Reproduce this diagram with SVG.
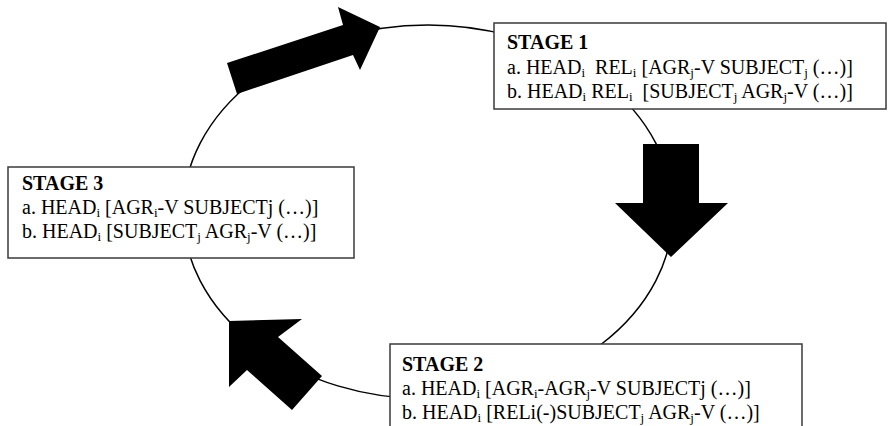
<svg xmlns="http://www.w3.org/2000/svg" width="889" height="426" viewBox="0 0 889 426">
<style>
.box{fill:#fff;stroke:#3a3a3a;stroke-width:1.5}
.t{font-family:"Liberation Serif","Times New Roman",serif;font-size:20px;fill:#000;white-space:pre}
.h{font-weight:bold}
.s{font-size:13px}
.arr{fill:#000}
</style>
<rect width="889" height="426" fill="#fff"/>
<g id="connectors">
<ellipse cx="428" cy="212" rx="245" ry="187" fill="none" stroke="#000" stroke-width="1.5"/>
<polygon class="arr" points="227,63 343,25 338,7 380,27 360,70 353,55 237,94"/>
<polygon class="arr" points="643,144 699,144 699,203 728,203 671,257 615,203 643,203"/>
<polygon class="arr" points="229,321 302,319 278,337 322,376 292,410 247,370 229,387"/>
</g>
<g id="stage1">
<rect class="box" x="494" y="23" width="392" height="86"/>
<text class="t h" x="507" y="49">STAGE 1</text>
<text class="t" x="507" y="74">a. HEAD<tspan class="s" dy="3">i</tspan><tspan dy="-3">  REL</tspan><tspan class="s" dy="3">i</tspan><tspan dy="-3"> [AGR</tspan><tspan class="s" dy="3">j</tspan><tspan dy="-3">-V SUBJECT</tspan><tspan class="s" dy="3">j</tspan><tspan dy="-3"> (…)]</tspan></text>
<text class="t" x="507" y="98">b. HEAD<tspan class="s" dy="3">i</tspan><tspan dy="-3"> REL</tspan><tspan class="s" dy="3">i</tspan><tspan dy="-3">  [SUBJECT</tspan><tspan class="s" dy="3">j</tspan><tspan dy="-3"> AGR</tspan><tspan class="s" dy="3">j</tspan><tspan dy="-3">-V (…)]</tspan></text>
</g>
<g id="stage3">
<rect class="box" x="8" y="167" width="346" height="91"/>
<text class="t h" x="22" y="190">STAGE 3</text>
<text class="t" x="22" y="214">a. HEAD<tspan class="s" dy="3">i</tspan><tspan dy="-3"> [AGR</tspan><tspan class="s" dy="3">i</tspan><tspan dy="-3">-V SUBJECTj (…)]</tspan></text>
<text class="t" x="22" y="238">b. HEAD<tspan class="s" dy="3">i</tspan><tspan dy="-3"> [SUBJECT</tspan><tspan class="s" dy="3">j</tspan><tspan dy="-3"> AGR</tspan><tspan class="s" dy="3">j</tspan><tspan dy="-3">-V (…)]</tspan></text>
</g>
<g id="stage2">
<rect class="box" x="390" y="344" width="412" height="100"/>
<text class="t h" x="402" y="371">STAGE 2</text>
<text class="t" x="402" y="395">a. HEAD<tspan class="s" dy="3">i</tspan><tspan dy="-3"> [AGR</tspan><tspan class="s" dy="3">i</tspan><tspan dy="-3">-AGR</tspan><tspan class="s" dy="3">j</tspan><tspan dy="-3">-V SUBJECTj (…)]</tspan></text>
<text class="t" x="402" y="419">b. HEAD<tspan class="s" dy="3">i</tspan><tspan dy="-3"> [RELi(-)SUBJECT</tspan><tspan class="s" dy="3">j</tspan><tspan dy="-3"> AGR</tspan><tspan class="s" dy="3">j</tspan><tspan dy="-3">-V (…)]</tspan></text>
</g>
</svg>
